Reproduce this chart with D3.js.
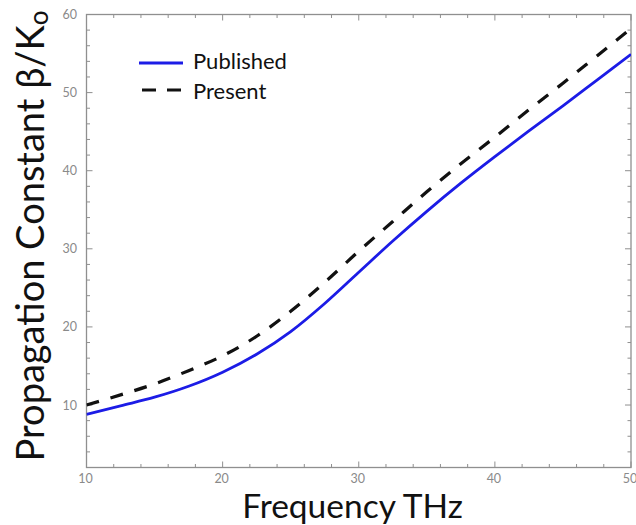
<!DOCTYPE html>
<html>
<head>
<meta charset="utf-8">
<script src="https://cdn.jsdelivr.net/npm/d3@7"></script>
<style>
  html, body { margin: 0; padding: 0; background: #fff; }
  svg { display: block; }
</style>
</head>
<body>
<div id="chart"></div>
<script>
// Frequency samples (THz)
const frequency = [10, 12.5, 15, 17.5, 20, 22.5, 25, 27.5, 30, 32.5, 35, 37.5, 40, 42.5, 45, 47.5, 50];
// Normalised propagation constant beta/k0
const published = [8.8, 9.9, 11.0, 12.4, 14.2, 16.5, 19.4, 23.0, 27.0, 31.0, 34.8, 38.4, 41.8, 45.1, 48.3, 51.6, 54.9];
const present   = [10.0, 11.3, 12.7, 14.4, 16.3, 18.8, 22.0, 25.7, 29.7, 33.5, 37.3, 40.9, 44.3, 47.8, 51.2, 54.7, 58.2];

const xMajorTicks = [10, 20, 30, 40, 50];
const yMajorTicks = [10, 20, 30, 40, 50, 60];
const seriesNames = ["Published", "Present"];

const W = 636, H = 525;
const plot = { left: 86.5, top: 14.5, right: 631, bottom: 467.5 };

const svg = d3.select("#chart").append("svg")
  .attr("width", W).attr("height", H)
  .style("font-family", "Lato, 'Open Sans', sans-serif");

const x = d3.scaleLinear().domain([10, 50]).range([plot.left, plot.right]);
const y = d3.scaleLinear().domain([2, 60]).range([plot.bottom, plot.top]);

const frameColor = "#8f8f8f";
const labelColor = "#8a8a8a";

// Minor ticks every 2 units
const xMinor = d3.range(10, 50.01, 2).filter(v => !xMajorTicks.includes(v));
const yMinor = d3.range(2, 60.01, 2).filter(v => !yMajorTicks.includes(v));

const ticks = svg.append("g").attr("stroke", frameColor).attr("stroke-width", 1);
function vTicks(vals, len) {
  vals.forEach(v => {
    ticks.append("line").attr("x1", x(v)).attr("x2", x(v))
      .attr("y1", plot.bottom).attr("y2", plot.bottom - len);
    ticks.append("line").attr("x1", x(v)).attr("x2", x(v))
      .attr("y1", plot.top).attr("y2", plot.top + len);
  });
}
function hTicks(vals, len) {
  vals.forEach(v => {
    ticks.append("line").attr("y1", y(v)).attr("y2", y(v))
      .attr("x1", plot.left).attr("x2", plot.left + len);
    ticks.append("line").attr("y1", y(v)).attr("y2", y(v))
      .attr("x1", plot.right).attr("x2", plot.right - len);
  });
}
vTicks(xMajorTicks, 6);
vTicks(xMinor, 3.5);
hTicks(yMajorTicks, 6);
hTicks(yMinor, 3.5);

// Frame
svg.append("rect")
  .attr("x", plot.left).attr("y", plot.top)
  .attr("width", plot.right - plot.left).attr("height", plot.bottom - plot.top)
  .attr("fill", "none").attr("stroke", frameColor).attr("stroke-width", 1.3);

// Tick labels
svg.append("g").selectAll("text").data(xMajorTicks).join("text")
  .attr("x", d => x(d) - 1).attr("y", 482.5)
  .attr("text-anchor", "middle")
  .attr("font-size", 12.5).attr("fill", labelColor)
  .text(d => d);

svg.append("g").selectAll("text").data(yMajorTicks).join("text")
  .attr("x", 77).attr("y", d => y(d) + 4.5)
  .attr("text-anchor", "end")
  .attr("font-size", 12.5).attr("fill", labelColor)
  .text(d => d);

// Curves
svg.append("clipPath").attr("id", "plot-clip").append("rect")
  .attr("x", plot.left).attr("y", plot.top)
  .attr("width", plot.right - plot.left).attr("height", plot.bottom - plot.top);

const line = d3.line().x(d => x(d[0])).y(d => y(d[1])).curve(d3.curveMonotoneX);

const g = svg.append("g").attr("clip-path", "url(#plot-clip)");
g.append("path")
  .attr("d", line(d3.zip(frequency, published)))
  .attr("fill", "none").attr("stroke", "#1c1ce6").attr("stroke-width", 2.8);
g.append("path")
  .attr("d", line(d3.zip(frequency, present)))
  .attr("fill", "none").attr("stroke", "#111").attr("stroke-width", 3.2)
  .attr("stroke-dasharray", "13,12");

// Legend
const legend = svg.append("g");
legend.append("line").attr("x1", 139).attr("x2", 183).attr("y1", 63).attr("y2", 63)
  .attr("stroke", "#1c1ce6").attr("stroke-width", 2.8);
legend.append("line").attr("x1", 142).attr("x2", 183).attr("y1", 90).attr("y2", 90)
  .attr("stroke", "#111").attr("stroke-width", 3.2).attr("stroke-dasharray", "14,11");
legend.append("text").attr("x", 193).attr("y", 69).attr("font-size", 22).attr("fill", "#111")
  .text(seriesNames[0]);
legend.append("text").attr("x", 193).attr("y", 98.5).attr("font-size", 22).attr("fill", "#111")
  .text(seriesNames[1]);

// Axis titles
svg.append("text")
  .attr("x", 352.5).attr("y", 518)
  .attr("text-anchor", "middle").attr("font-size", 33.5).attr("fill", "#111")
  .text("Frequency THz");

const yTitle = svg.append("text")
  .attr("transform", "translate(44,236) rotate(-90)")
  .attr("text-anchor", "middle").attr("font-size", 38).attr("fill", "#111");
yTitle.append("tspan").text("Propagation Constant β/K");
yTitle.append("tspan").attr("font-size", 26).attr("dy", 4).text("o");
</script>
</body>
</html>
